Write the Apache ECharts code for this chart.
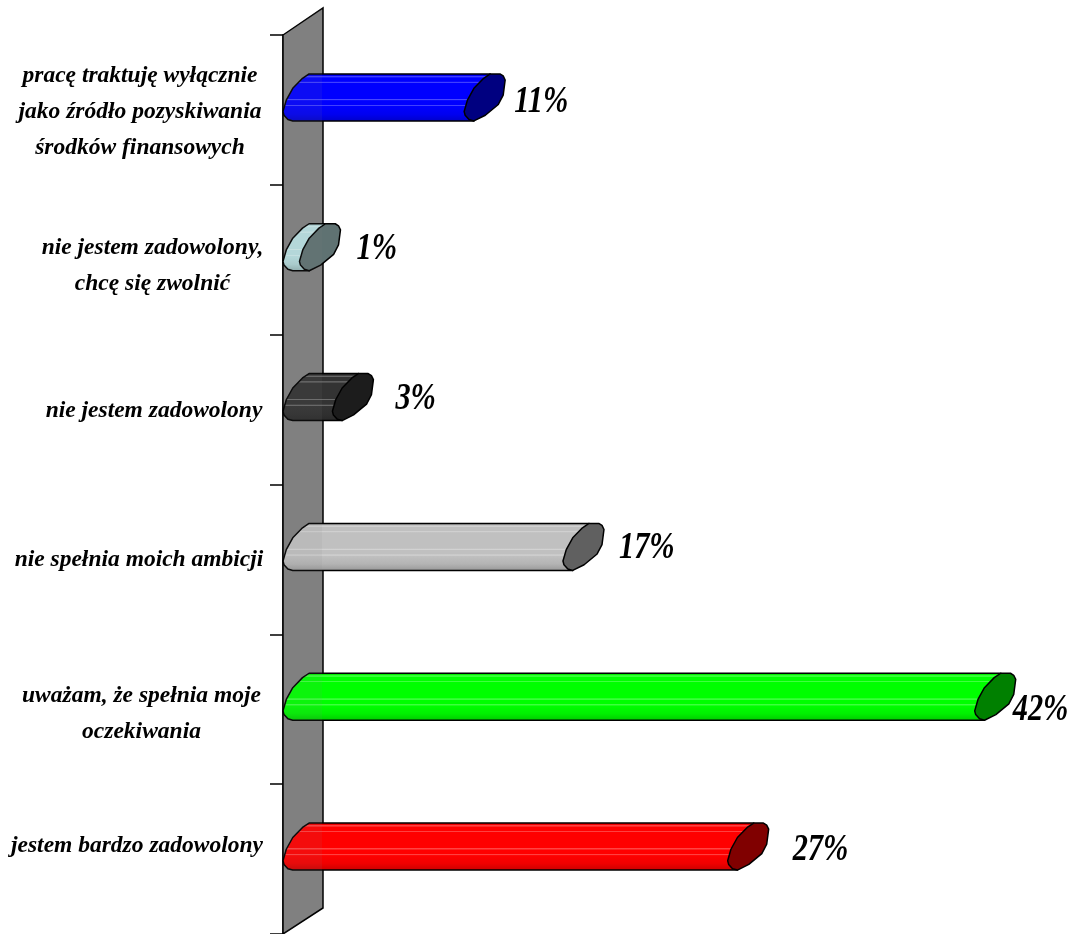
<!DOCTYPE html>
<html><head><meta charset="utf-8">
<style>html,body{margin:0;padding:0;background:#fff}#c{width:1070px;height:934px}</style>
<script src="https://cdn.jsdelivr.net/npm/echarts@6/dist/echarts.min.js"></script>
</head><body><div id="c"></div>
<script>
const categories = [
  'pracę traktuję wyłącznie\njako źródło pozyskiwania\nśrodków finansowych',
  'nie jestem zadowolony,\nchcę się zwolnić',
  'nie jestem zadowolony',
  'nie spełnia moich ambicji',
  'uważam, że spełnia moje\noczekiwania',
  'jestem bardzo zadowolony'
];
const values = [11, 1, 3, 17, 42, 27];
const bodyColors = [[0,0,255],[185,224,226],[51,51,51],[192,192,192],[0,255,0],[255,0,0]];
const capColors = ['#000080','#5f7272','#1c1c1c','#606060','#008000','#800000'];
const labelDx = [9,16,22,15,-3,24];
const labelDy = [-7.5,-11,-10,-11,0.5,-8.5];
const catPad = [[4,0],[12,0],[3,0],[2,0],[9,0],[0,26]];
const catWidth = [244,219,216,246,241,250];

const DX = 40, DY = 27, CAPW = 41, CAPH = 47, CAPUP = 36;
const profile = [[.635,0],[.873,0],[.952,.043],[1,.13],[.952,.45],[.833,.65],[.516,.879],[.238,1],[.119,.97],[.024,.88],[0,.8],[.08,.557],[.238,.307],[.476,.093]];
const FONT = '"Liberation Serif","Times New Roman",serif';

function shade(c, f){
  const m = f >= 0 ? c.map(x => Math.round(x + (255 - x) * f)) : c.map(x => Math.round(x * (1 + f)));
  return `rgb(${m[0]},${m[1]},${m[2]})`;
}
function bodyGradient(c){
  const base = [[0,-.12],[.05,-.05],[.065,.25],[.08,.25],[.095,0],[.17,0],[.18,.25],[.195,.25],[.205,0],[.53,0],[.54,.28],[.555,.28],[.565,0],[.65,0],[.66,.25],[.675,.25],[.685,0],[.85,-.06],[1,-.22]];
  return {type:'linear',x:0,y:0,x2:0,y2:1,colorStops:base.map(s=>({offset:s[0],color:shade(c,s[1])}))};
}
const rich = {};
categories.forEach((c,i)=>{ rich['c'+i] = {width:catWidth[i],align:'center',fontFamily:FONT,fontSize:23.5,fontWeight:'bold',fontStyle:'italic',color:'#000',lineHeight:36,padding:[catPad[i][0],0,catPad[i][1],0]}; });

const chart = echarts.init(document.getElementById('c'), null, {renderer:'canvas'});
chart.setOption({
  animation:false,
  backgroundColor:'#fff',
  grid:{left:283,top:35,width:691.7,height:899},
  xAxis:{type:'value',min:0,max:42,show:false,splitLine:{show:false}},
  yAxis:{type:'category',inverse:true,data:categories,
    axisLine:{show:true,lineStyle:{color:'#000',width:1.5}},
    axisTick:{show:true,length:13,lineStyle:{color:'#000',width:1.5}},
    splitLine:{show:false},
    axisLabel:{margin:21,interval:0,align:'right',
      formatter:(v,i)=>v.split('\n').map(l=>`{c${i}|${l}}`).join('\n'),rich}},
  series:[
    {type:'custom',silent:true,clip:false,z:2,data:[[0,0]],encode:{x:0,y:1},
     renderItem:(p)=>{const s=p.coordSys;return {type:'polygon',
       shape:{points:[[s.x,s.y],[s.x+DX,s.y-DY],[s.x+DX,s.y+s.height-DY+1],[s.x,s.y+s.height]]},
       style:{fill:'#808080',stroke:'#000',lineWidth:1.5}};}},
    {type:'custom',silent:true,clip:false,z:3,
     data:values.map((v,i)=>[v,i]),encode:{x:0,y:1},
     renderItem:(p,api)=>{
       const i=api.value(1);
       const o=api.coord([0,i]), e=api.coord([api.value(0),i]);
       const top=o[1]-CAPUP;
       const pt=(x0,q)=>[x0+q[0]*CAPW,top+q[1]*CAPH];
       const left=[0,13,12,11,10,9,8,7].map(k=>pt(o[0],profile[k]));
       const body=left.concat([pt(e[0],profile[7]),pt(e[0],profile[0])]);
       const cap=profile.map(q=>pt(e[0],q));
       return {type:'group',children:[
         {type:'polygon',shape:{points:body},style:{fill:bodyGradient(bodyColors[i]),stroke:'#000',lineWidth:1.5,lineJoin:'round'}},
         {type:'polygon',shape:{points:cap},style:{fill:capColors[i],stroke:'#000',lineWidth:1.5,lineJoin:'round'}},
         {type:'text',x:e[0]+CAPW+labelDx[i],y:o[1]+labelDy[i],scaleX:0.8,
           style:{text:api.value(0)+'%',x:0,y:0,textAlign:'left',textVerticalAlign:'middle',fill:'#000',
           font:'italic bold 38px '+FONT}}
       ]};
     }},
    {type:'custom',silent:true,clip:false,z:4,data:[[0,0]],encode:{x:0,y:1},
     renderItem:(p)=>{const s=p.coordSys;return {type:'polygon',
       shape:{points:[[s.x+1,s.y],[s.x+DX-1,s.y-DY],[s.x+DX-1,s.y+s.height-DY],[s.x+1,s.y+s.height]]},
       style:{fill:'rgba(128,128,128,0.09)'}};}}
  ]
});
</script></body></html>
